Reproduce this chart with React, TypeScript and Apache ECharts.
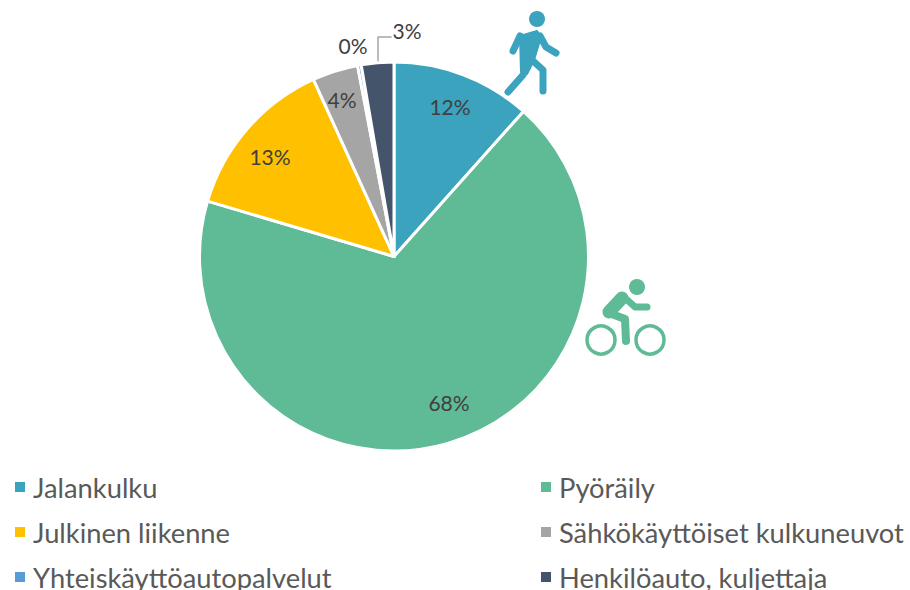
import React, { useEffect, useRef } from "react";
import * as echarts from "echarts";

const categories = ["Jalankulku", "Pyöräily", "Julkinen liikenne", "Sähkökäyttöiset kulkuneuvot", "Yhteiskäyttöautopalvelut", "Henkilöauto, kuljettaja"];
const shares = [11.6, 68, 13.6, 3.8, 0.3, 2.7];
const colors = ["#3BA3BE", "#5FBA96", "#FFC000", "#A5A5A5", "#5B9BD5", "#44546A"];
const labelSpots = [[450, 106], [449, 402], [270, 156], [342, 99], [353, 45], [407, 30]];

const FONT = "Lato, 'Open Sans', sans-serif";
const WALK = colors[0];
const BIKE = colors[1];

function stroke(points: number[][], color: string, lineWidth: number) {
  return {
    type: "polyline",
    shape: { points },
    style: { stroke: color, lineWidth, lineCap: "round", lineJoin: "round", fill: "none" },
    silent: true,
  };
}

function blob(points: number[][], color: string) {
  return {
    type: "polygon",
    shape: { points },
    style: { fill: color, stroke: color, lineWidth: 2, lineJoin: "round" },
    silent: true,
  };
}

function legendItem(name: string, i: number) {
  return {
    data: [name],
    left: i % 2 === 0 ? 13 : 539,
    top: 472 + Math.floor(i / 2) * 45,
    orient: "vertical",
    icon: "rect",
    itemWidth: 12,
    itemHeight: 12,
    padding: 0,
    selectedMode: false,
    textStyle: { fontFamily: FONT, fontSize: 27.3, color: "#595959", lineHeight: 30, padding: [0, 0, 0, 2] },
  };
}

export default function App() {
  const ref = useRef<HTMLDivElement>(null);
  useEffect(() => {
    document.body.style.margin = "0";
    const chart = echarts.init(ref.current!, null, { renderer: "svg" });
    chart.setOption({
      animation: false,
      backgroundColor: "#fff",
      color: colors,
      legend: categories.map(legendItem),
      series: [
        {
          type: "pie",
          center: [394, 256.5],
          radius: [0, 194.5],
          startAngle: 90,
          clockwise: true,
          avoidLabelOverlap: false,
          itemStyle: { borderColor: "#fff", borderWidth: 3 },
          label: {
            show: true,
            position: "inside",
            formatter: "{d}%",
            fontFamily: FONT,
            fontSize: 21,
            color: "#404040",
          },
          percentPrecision: 0,
          labelLine: { show: false },
          labelLayout: (p: any) => ({
            x: labelSpots[p.dataIndex][0],
            y: labelSpots[p.dataIndex][1],
            align: "center",
            verticalAlign: "middle",
          }),
          data: categories.map((name, i) => ({ name, value: shares[i] })),
        },
      ],
      graphic: [
        stroke([[378, 62], [378, 37], [391, 37]], "#A6A6A6", 1.5),
        // walker
        { type: "circle", shape: { cx: 537, cy: 19, r: 8 }, style: { fill: WALK }, silent: true },
        stroke([[513, 51], [520, 36]], WALK, 7),
        stroke([[540, 36], [546, 47], [556, 53]], WALK, 7),
        blob([[520, 36], [537, 31], [541, 37], [534, 60], [527, 74], [521, 72]], WALK),
        stroke([[508, 92], [523, 75]], WALK, 7),
        stroke([[532, 60], [543, 70], [543, 91]], WALK, 7),
        // cyclist
        { type: "circle", shape: { cx: 637, cy: 287, r: 8 }, style: { fill: BIKE }, silent: true },
        { type: "circle", shape: { cx: 601, cy: 340, r: 14 }, style: { fill: "none", stroke: BIKE, lineWidth: 3.5 }, silent: true },
        { type: "circle", shape: { cx: 650, cy: 340, r: 14 }, style: { fill: "none", stroke: BIKE, lineWidth: 3.5 }, silent: true },
        stroke([[622, 298], [609, 312]], BIKE, 13),
        stroke([[625, 298], [635, 307], [647, 307]], BIKE, 7),
        stroke([[609, 313], [625, 319], [626, 341]], BIKE, 8),
      ],
    });
    return () => chart.dispose();
  }, []);
  return <div ref={ref} style={{ width: 910, height: 590 }} />;
}
